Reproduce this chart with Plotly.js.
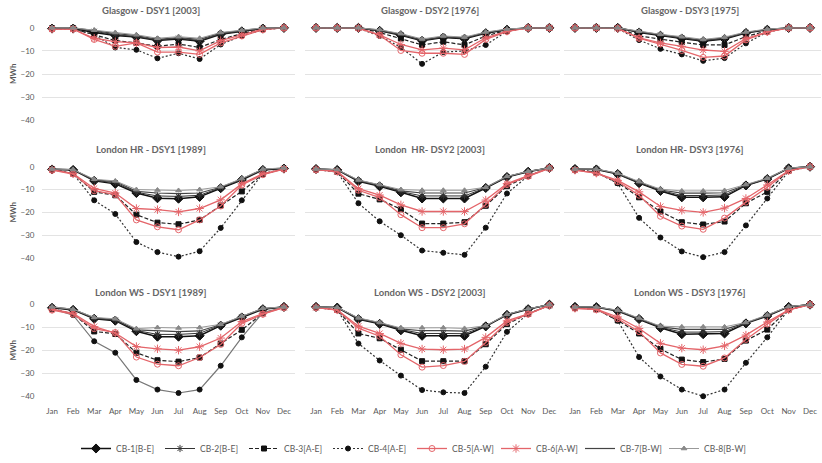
<!DOCTYPE html>
<html><head><meta charset="utf-8">
<script src="https://cdn.plot.ly/plotly-3.0.1.min.js"></script>
<style>html,body{margin:0;padding:0;background:#fff}#chart{width:822px;height:463px}</style>
</head><body><div id="chart"></div>
<script>
const months = ['Jan','Feb','Mar','Apr','May','Jun','Jul','Aug','Sep','Oct','Nov','Dec'];
const seriesNames = ['CB-1[B-E]','CB-2[B-E]','CB-3[A-E]','CB-4[A-E]','CB-5[A-W]','CB-6[A-W]','CB-7[B-W]','CB-8[B-W]'];
const panelTitles = ['Glasgow - DSY1 [2003]','Glasgow - DSY2 [1976]','Glasgow - DSY3 [1975]',
  'London HR - DSY1 [1989]','London  HR- DSY2 [2003]','London HR- DSY3 [1976]',
  'London WS - DSY1 [1989]','London WS - DSY2 [2003]','London WS - DSY3 [1976]'];
const yTicks = [0,-10,-20,-30,-40];

// each panel: rows in order CB-1 .. CB-8 (MWh)
const glasgowDSY1 = [
  [-0.3,-0.3,-2,-3.3,-4,-5.5,-4.8,-5.8,-2.8,-1.5,-0.3,0],
  [0,0,-1.5,-3,-3.8,-5.3,-4.5,-5.5,-2.6,-1.4,-0.2,0],
  [-0.3,-0.3,-3,-5.5,-6.5,-8,-7,-8.5,-5,-2.5,-0.5,0],
  [-0.5,-0.5,-3,-8.5,-9.5,-13.2,-11,-13.5,-7.2,-3.5,-0.8,0],
  [-0.5,-0.5,-5,-8,-6.5,-10.5,-10.5,-11.5,-6.5,-3.5,-0.8,0],
  [-0.5,-0.5,-4.5,-6,-6.5,-8.5,-8.3,-10,-5.5,-3,-0.5,0],
  [0,0,-1.2,-2.5,-3.3,-5,-4.2,-5,-2.3,-1.2,0,0],
  [0,0,-1,-2,-3,-4.5,-3.8,-4.5,-2,-1,0,0]
];
const glasgowDSY2 = [
  [0,0,0,-1.3,-3.2,-5.6,-4.2,-4.7,-2.3,-0.8,0,0],
  [0,0,0,-1.2,-3,-5.4,-4,-4.5,-2.2,-0.7,0,0],
  [0,0,0,-2,-4.6,-7.4,-6,-7.4,-3.5,-1,0,0],
  [0,0,-0.2,-3.5,-8.5,-15.6,-10.5,-10,-7.4,-1.5,0,0],
  [0,0,-0.2,-3.2,-9.8,-11,-11,-11.5,-5,-1.6,0,0],
  [0,0,0,-3,-7.2,-9.5,-8.8,-9.5,-4.3,-1.4,0,0],
  [0,0,0,-1,-2.8,-5.2,-3.8,-4.3,-2,-0.6,0,0],
  [0,0,0,-0.8,-2.5,-4.8,-3.5,-4,-1.8,-0.5,0,0]
];
const glasgowDSY3 = [
  [0,0,0,-2,-3.4,-4.6,-5.8,-4.8,-2.2,-0.8,0,0],
  [0,0,0,-1.8,-3.2,-4.4,-5.6,-4.6,-2.1,-0.7,0,0],
  [0,0,0,-3.5,-5,-6.2,-7.4,-7.4,-3.8,-1.2,0,0],
  [0,0,-0.3,-5.3,-9.1,-11.5,-14.3,-13.1,-6.7,-1.8,0,0],
  [0,0,-0.2,-4.5,-7,-9.8,-12.8,-12.2,-5.2,-1.8,0,0],
  [0,0,-0.2,-4.3,-6.5,-8,-9.6,-10.2,-4.6,-1.7,0,0],
  [0,0,0,-1.6,-3,-4.2,-5.3,-4.3,-2,-0.6,0,0],
  [0,0,0,-1.4,-2.8,-3.8,-5,-4,-1.8,-0.5,0,0]
];
const londonHRDSY1 = [
  [-1.2,-1.4,-6.2,-7.5,-11.5,-13.8,-14,-13.2,-9.4,-5.8,-1.4,-0.8],
  [-1,-1.3,-6,-7,-11.2,-12.8,-13,-12.5,-9.2,-5.6,-1.2,-0.7],
  [-1.2,-3,-11,-12.5,-21,-24.5,-25.2,-23.3,-17,-10.8,-3.2,-1],
  [-1.2,-3,-14.7,-20.7,-33,-37.4,-39.4,-37,-26.8,-14.7,-3,-1],
  [-1.5,-3.2,-10.5,-12.2,-23.3,-26.3,-27.6,-23.3,-17.2,-8,-3.5,-1],
  [-1.3,-3,-9.5,-11.5,-18.3,-18.8,-19.8,-18.3,-14.5,-7.5,-3,-1],
  [-1,-1.3,-5.8,-6.5,-10.8,-11.5,-11.8,-11.5,-9,-5.4,-1.1,-0.6],
  [-1,-1.2,-5.5,-6.2,-10,-10.2,-10.4,-10,-8.8,-5.2,-1,-0.5]
];
const londonHRDSY2 = [
  [-1,-1.4,-6.4,-8.6,-11.2,-13.9,-13.9,-13.9,-9.3,-4.5,-2.2,-0.5],
  [-1,-1.3,-6.2,-8.3,-10.9,-12.8,-12.8,-12.8,-9.2,-4.4,-2.1,-0.5],
  [-1.2,-2.2,-11.8,-14.3,-18.6,-24.9,-24.9,-24.3,-17.1,-8.5,-4,-0.6],
  [-1.2,-2.3,-16,-23.9,-30,-36.7,-37.7,-38.6,-26.7,-11.7,-4,-0.6],
  [-1.3,-2.2,-10.3,-13.5,-21,-26.7,-26.7,-25,-16.5,-7.8,-4.2,-0.7],
  [-1.2,-2,-9.6,-12.4,-16.7,-19.6,-19.6,-19.6,-14.6,-7.4,-3.9,-0.6],
  [-1,-1.3,-6,-8,-10.6,-11.5,-11.5,-11.5,-9.1,-4.3,-2,-0.5],
  [-1,-1.2,-5.8,-7.8,-10,-10.3,-10.3,-10.3,-9,-4.2,-2,-0.5]
];
const londonHRDSY3 = [
  [-1,-1.2,-3.2,-7.2,-10.6,-13.4,-13.4,-13.2,-8.2,-5.4,-0.7,0],
  [-1,-1.1,-3.1,-7,-10.4,-12.6,-12.6,-12.4,-8.1,-5.3,-0.6,0],
  [-1.2,-2.5,-7,-13.4,-19.6,-24.3,-25.3,-24,-16,-11,-1.5,0],
  [-1.2,-2.5,-7.3,-22.4,-31,-37.1,-39.6,-37.4,-25.7,-13.9,-2,0],
  [-1.5,-2.8,-6.5,-12.5,-21.7,-26,-27.4,-22.5,-15.5,-9,-1.8,0],
  [-1.5,-2.8,-6,-11,-17.4,-19.1,-20,-18.1,-13.9,-8,-1.7,0],
  [-1,-1,-3,-6.8,-10.2,-11.6,-11.6,-11.4,-8,-5.2,-0.6,0],
  [-1,-1,-2.8,-6.5,-9.8,-10.6,-10.6,-10.4,-7.8,-5,-0.6,0]
];
const londonWSDSY1 = [
  [-1.4,-2.3,-6.2,-7,-11.6,-14,-14,-13.6,-9.2,-5.6,-2,-1],
  [-1.2,-2.2,-6,-6.8,-11.3,-13,-13,-12.5,-9,-5.4,-1.8,-1],
  [-1.8,-4,-11.7,-12.8,-21,-24.3,-24.9,-23.1,-17,-11,-3.8,-1.2],
  [-1.8,-4.6,-16,-21,-32.9,-37.1,-38.6,-37.1,-26.7,-14.3,-3.5,-1.2],
  [-2.4,-4.2,-10.5,-12.2,-22.9,-26,-26.7,-23.1,-17.4,-8.2,-4.2,-1.3],
  [-2,-3.8,-9.6,-12.4,-18.3,-19.3,-19.9,-18.4,-14.6,-7.4,-3.9,-1.2],
  [-1,-2.1,-5.8,-6.5,-11,-11.5,-11.8,-11.5,-8.8,-5.2,-1.7,-1],
  [-1,-2,-5.6,-6.2,-10.5,-10,-10.2,-10,-8.6,-5,-1.6,-1]
];
const londonWSDSY2 = [
  [-1,-1.3,-6.4,-8.4,-11.2,-13.6,-13.6,-13.6,-9.5,-4.5,-2,0],
  [-1,-1.3,-6.2,-8.2,-10.9,-12.6,-12.6,-12.7,-9.4,-4.4,-1.9,0],
  [-1.2,-2.3,-12.6,-14.7,-19.7,-24.7,-24.7,-24.7,-17.3,-8.5,-4,-0.3],
  [-1.2,-2.3,-17,-24.4,-31,-37.3,-38.3,-38.6,-27.1,-11.9,-4,-0.3],
  [-1.3,-2.4,-10.3,-13.8,-21.9,-27.3,-26.6,-24.8,-16.5,-7.8,-4.2,-0.3],
  [-1.2,-2.3,-9.4,-12.6,-16.9,-19.4,-19.7,-19.4,-14.3,-7.1,-4,-0.3],
  [-1,-1.2,-6,-8,-10.6,-11.4,-11.4,-11.6,-9.3,-4.3,-1.9,0],
  [-1,-1.2,-5.8,-7.8,-10.2,-10.1,-10.1,-10.4,-9.2,-4.2,-1.8,0]
];
const londonWSDSY3 = [
  [-1,-1.1,-2.8,-6.3,-10.1,-12.9,-12.9,-12.6,-8.2,-5,-1,0],
  [-1,-1,-2.7,-6.1,-9.9,-12,-12,-11.8,-8.1,-4.8,-0.9,0],
  [-1.4,-2,-6.9,-12.6,-19.4,-24,-25.1,-23.7,-15.7,-10.9,-2,0],
  [-1.4,-2,-7,-22.9,-31.4,-37.1,-40,-37.1,-25.4,-14.3,-2.2,0],
  [-1.6,-2.2,-6.2,-11.8,-21.1,-26.1,-26.9,-23.3,-15.2,-8.5,-2.3,0],
  [-1.6,-2,-5.4,-10.4,-16.9,-19,-19.7,-18,-13.3,-7.6,-2.3,0],
  [-1,-1,-2.6,-6,-9.7,-10.8,-10.8,-10.8,-8,-4.7,-0.9,0],
  [-1,-1,-2.4,-5.8,-9.4,-9.7,-9.7,-9.7,-7.8,-4.5,-0.8,0]
];
const panels = [glasgowDSY1, glasgowDSY2, glasgowDSY3, londonHRDSY1, londonHRDSY2, londonHRDSY3, londonWSDSY1, londonWSDSY2, londonWSDSY3];

const W = 822, H = 463;
const colX = [[41.5,294.5],[305.4,560],[564.3,820.7]];
const rowY = [[27.6,122.7],[168.6,262.7],[308.6,403]];
const titleX = [151, 430, 690];
const titleY = [11, 152, 297];
const RED = '#e4656a';
const styles = [
  {color:'#111', dash:'solid', width:1.5, symbol:'diamond', size:7, mcolor:'#111'},
  {color:'#333', dash:'solid', width:1, symbol:'asterisk-open', size:6, mcolor:'#333'},
  {color:'#222', dash:'4px,2px', width:1.2, symbol:'square', size:5, mcolor:'#111'},
  {color:'#333', dash:'2px,2px', width:1.2, symbol:'circle', size:5, mcolor:'#111'},
  {color:RED, dash:'solid', width:1.3, symbol:'circle-open', size:6, mcolor:RED},
  {color:RED, dash:'solid', width:1.3, symbol:'asterisk-open', size:7, mcolor:RED},
  {color:'#444', dash:'solid', width:1.2, symbol:'circle', size:0.1, mcolor:'#444'},
  {color:'#999', dash:'solid', width:1, symbol:'triangle-up', size:5, mcolor:'#888'}
];

const traces = [];
const layout = {
  width: W, height: H, margin:{l:0,r:0,t:0,b:0},
  paper_bgcolor:'#fff', plot_bgcolor:'rgba(0,0,0,0)',
  font:{family:'Lato, "Open Sans", sans-serif', color:'#595959', size:8},
  showlegend: true,
  legend:{orientation:'h', x:76/W, y:1-441/H, xanchor:'left', yanchor:'top',
    font:{size:8.5, color:'#595959'}, entrywidth:39, entrywidthmode:'pixels', bgcolor:'rgba(0,0,0,0)'},
  annotations: [], hovermode:false
};

panels.forEach((data, p) => {
  const r = Math.floor(p/3), c = p%3;
  const ax = p===0 ? '' : String(p+1);
  data.forEach((vals, s) => {
    const st = styles[s];
    let dash = st.dash, lcolor = st.color;
    if (p===6 && s===3) { dash = 'solid'; lcolor = '#777'; }
    traces.push({
      type:'scatter', mode: s===6 ? 'lines' : 'lines+markers',
      x: months, y: vals, name: seriesNames[s], legendgroup: seriesNames[s],
      showlegend: p===0, xaxis:'x'+ax, yaxis:'y'+ax, cliponaxis:false,
      line:{color:lcolor, dash:dash, width:st.width},
      marker:{symbol:st.symbol, size:st.size, color:st.mcolor, line:{color:st.mcolor, width:1}}
    });
  });
  layout['xaxis'+ax] = {
    domain:[colX[c][0]/W, colX[c][1]/W], anchor:'y'+ax, type:'category',
    categoryarray: months, range:[-0.5, 11.5], showgrid:false, zeroline:false,
    showline:false, ticks:'', showticklabels: r===2,
    tickfont:{size:8, color:'#595959'}, ticklabelstandoff: 8
  };
  layout['yaxis'+ax] = {
    domain:[1-rowY[r][1]/H, 1-rowY[r][0]/H], anchor:'x'+ax, range:[-40.3, 0.3],
    tickvals: yTicks, showgrid:true, gridcolor:'#e3e3e3', gridwidth:1, zeroline:false,
    showline:false, ticks:'', showticklabels: c===0,
    tickfont:{size:8, color:'#595959'}, ticklabelstandoff: 6
  };
  layout.annotations.push({
    text: panelTitles[p], xref:'paper', yref:'paper', x: titleX[c]/W, y: 1-titleY[r]/H,
    xanchor:'center', yanchor:'middle', showarrow:false,
    font:{size:9.5, color:'#666666', family:'Lato, sans-serif', weight:'bold'}
  });
  if (c===0) {
    layout.annotations.push({
      text:'MWh', xref:'paper', yref:'paper', x:13/W, y:1-((rowY[r][0]+rowY[r][1])/2)/H,
      textangle:-90, xanchor:'center', yanchor:'middle', showarrow:false,
      font:{size:8, color:'#595959', weight:'bold'}
    });
  }
});

Plotly.newPlot('chart', traces, layout, {staticPlot:true, displayModeBar:false});
</script>
</body></html>
